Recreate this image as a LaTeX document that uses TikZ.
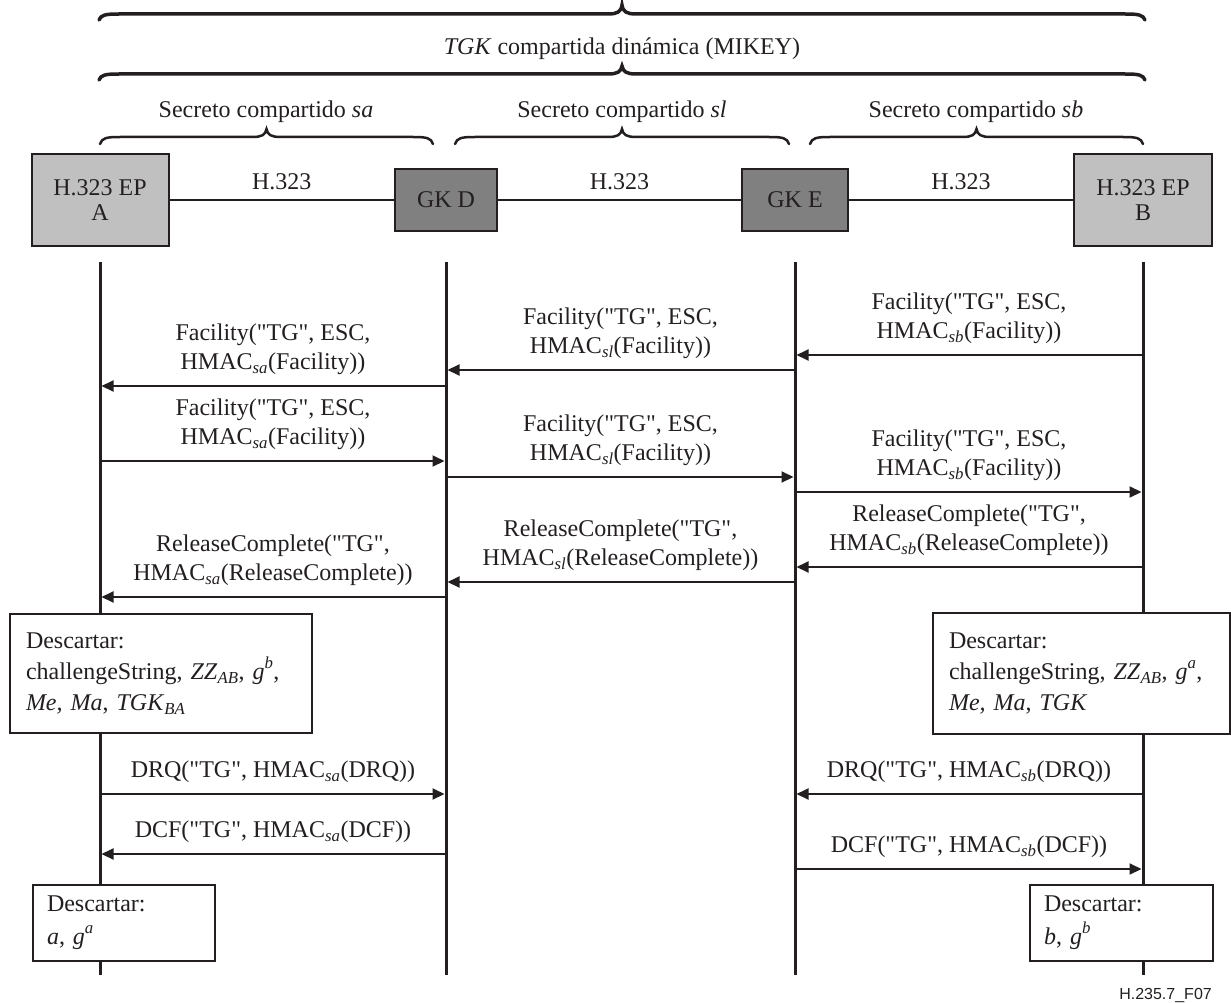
\documentclass[tikz,border=0pt]{standalone}
\usepackage{fontspec}
\setmainfont{Liberation Serif}[Ligatures=TeXOff]
\newfontfamily\arialfont{Liberation Sans}
\usetikzlibrary{arrows.meta}
\definecolor{ink}{RGB}{35,31,32}
\definecolor{epgray}{RGB}{192,192,192}
\definecolor{gkgray}{RGB}{128,128,128}
\newcommand{\mysub}[1]{\textsubscript{\textit{#1}}}
\newcommand{\mysup}[1]{\raisebox{2pt}{\textsuperscript{\textit{#1}}}}
\newcommand{\drawbrace}[6]{%
  \pgfmathsetmacro{\bmid}{(#1+#2)/2}%
  \draw[#6] (#1,#5) .. controls (#1+2,#4+1) and (#1+6,#4) .. (#1+20,#4)
    -- (\bmid-14,#4) .. controls (\bmid-5,#4) and (\bmid-1,#4-2) .. (\bmid,#3)
    .. controls (\bmid+1,#4-2) and (\bmid+5,#4) .. (\bmid+14,#4)
    -- (#2-20,#4) .. controls (#2-6,#4) and (#2-2,#4+1) .. (#2,#5);}
\tikzset{
  txt/.style={font=\fontsize{24}{29}\selectfont, text=ink},
  ep/.style={draw=ink, line width=2pt, fill=epgray, minimum width=137pt, minimum height=92pt,
    align=center, font=\fontsize{24}{25}\selectfont, text=ink, inner sep=0pt},
  gk/.style={draw=ink, line width=2pt, fill=gkgray, minimum height=62pt, txt, inner sep=0pt},
  life/.style={draw=ink, line width=3pt},
  conn/.style={draw=ink, line width=2.5pt},
  hlbl/.style={txt, midway, anchor=base, yshift=10pt, inner sep=0pt},
  msg/.style={draw=ink, line width=2pt, -{Triangle[length=12pt,width=11pt]}, shorten >=1.5pt},
  lbl/.style={txt, midway, align=center, anchor=south, inner sep=0pt, yshift=10pt},
  dbox/.style={draw=ink, line width=2pt, fill=white, anchor=north west, align=left,
    font=\fontsize{24}{31}\selectfont, text=ink, inner ysep=0pt},
  brc/.style={draw=ink, line width=3.5pt, line cap=round},
  brcs/.style={draw=ink, line width=2.5pt, line cap=round},
}
\begin{document}
\begin{tikzpicture}[x=1pt, y=-1pt]
\useasboundingbox (0,0) rectangle (1231,1003);

% braces
\drawbrace{99}{1145}{5}{14}{20}{brc}
\drawbrace{99}{1145}{66}{74}{80}{brc}
\node[txt, anchor=base] (ttl) at (622,55) {\textit{TGK} compartida dinámica (MIKEY)};
\drawbrace{100}{433}{129}{137}{144}{brcs}
\drawbrace{455}{789}{129}{137}{144}{brcs}
\drawbrace{810}{1143}{129}{137}{144}{brcs}
\node[txt, anchor=base] (ssa) at (266,118) {Secreto compartido \textit{sa}};
\node[txt, anchor=base] (ssl) at (622,118) {Secreto compartido \textit{sl}};
\node[txt, anchor=base] (ssb) at (976,118) {Secreto compartido \textit{sb}};

% entities
\node[ep] (epA) at (100,200) {H.323 EP\\A};
\node[gk, minimum width=102pt] (gkD) at (446,200) {GK D};
\node[gk, minimum width=106pt] (gkE) at (795,200) {GK E};
\node[ep, minimum width=138pt] (epB) at (1143,200) {H.323 EP\\B};
\draw[conn] (epA) -- node[hlbl] {H.323} (gkD);
\draw[conn] (gkD) -- node[hlbl] {H.323} (gkE);
\draw[conn] (gkE) -- node[hlbl] {H.323} (epB);

% lifelines
\draw[life] (epA |- 0,262) -- (epA |- 0,975);
\draw[life] (gkD |- 0,262) -- (gkD |- 0,975);
\draw[life] (gkE |- 0,262) -- (gkE |- 0,975);
\draw[life] (epB |- 0,262) -- (epB |- 0,975);

% row 1
\draw[msg] (epB |- 0,355) -- node[lbl] {Facility("TG", ESC,\\HMAC\mysub{sb}(Facility))} (gkE |- 0,355);
\draw[msg] (gkE |- 0,370) -- node[lbl] {Facility("TG", ESC,\\HMAC\mysub{sl}(Facility))} (gkD |- 0,370);
\draw[msg] (gkD |- 0,386) -- node[lbl] {Facility("TG", ESC,\\HMAC\mysub{sa}(Facility))} (epA |- 0,386);
% row 2
\draw[msg] (epA |- 0,461) -- node[lbl] {Facility("TG", ESC,\\HMAC\mysub{sa}(Facility))} (gkD |- 0,461);
\draw[msg] (gkD |- 0,477) -- node[lbl] {Facility("TG", ESC,\\HMAC\mysub{sl}(Facility))} (gkE |- 0,477);
\draw[msg] (gkE |- 0,492) -- node[lbl] {Facility("TG", ESC,\\HMAC\mysub{sb}(Facility))} (epB |- 0,492);
% row 3
\draw[msg] (epB |- 0,567) -- node[lbl] {ReleaseComplete("TG",\\HMAC\mysub{sb}(ReleaseComplete))} (gkE |- 0,567);
\draw[msg] (gkE |- 0,582) -- node[lbl] {ReleaseComplete("TG",\\HMAC\mysub{sl}(ReleaseComplete))} (gkD |- 0,582);
\draw[msg] (gkD |- 0,597) -- node[lbl] {ReleaseComplete("TG",\\HMAC\mysub{sa}(ReleaseComplete))} (epA |- 0,597);

% discard boxes
\node[dbox, minimum width=302pt, minimum height=119pt, text width=270pt, inner xsep=16pt] (dA) at (9,613)
  {Descartar:\\challengeString, \textit{ZZ}\mysub{AB}, \textit{g}\mysup{b},\\\textit{Me, Ma}, \textit{TGK}\mysub{BA}};
\node[dbox, minimum width=297pt, minimum height=121pt, text width=265pt, inner xsep=16pt] (dB) at (932,612)
  {Descartar:\\challengeString, \textit{ZZ}\mysub{AB}, \textit{g}\mysup{a},\\\textit{Me, Ma}, \textit{TGK}};

% DRQ / DCF
\draw[msg] (epA |- 0,794) -- node[lbl] {DRQ("TG", HMAC\mysub{sa}(DRQ))} (gkD |- 0,794);
\draw[msg] (gkD |- 0,854) -- node[lbl] {DCF("TG", HMAC\mysub{sa}(DCF))} (epA |- 0,854);
\draw[msg] (epB |- 0,794) -- node[lbl] {DRQ("TG", HMAC\mysub{sb}(DRQ))} (gkE |- 0,794);
\draw[msg] (gkE |- 0,869) -- node[lbl] {DCF("TG", HMAC\mysub{sb}(DCF))} (epB |- 0,869);

% final discard boxes
\node[dbox, minimum width=182pt, minimum height=76pt, text width=154pt, inner xsep=14pt,
  font=\fontsize{24}{33}\selectfont] (fA) at (32,884) {Descartar:\\\textit{a}, \textit{g}\mysup{a}};
\node[dbox, minimum width=183pt, minimum height=76pt, text width=155pt, inner xsep=14pt,
  font=\fontsize{24}{33}\selectfont] (fB) at (1029,884) {Descartar:\\\textit{b}, \textit{g}\mysup{b}};

\node[anchor=base east, font=\arialfont\fontsize{16}{19}\selectfont, text=ink, inner sep=0pt] (fig) at (1212,999) {H.235.7\_F07};
\end{tikzpicture}
\end{document}
